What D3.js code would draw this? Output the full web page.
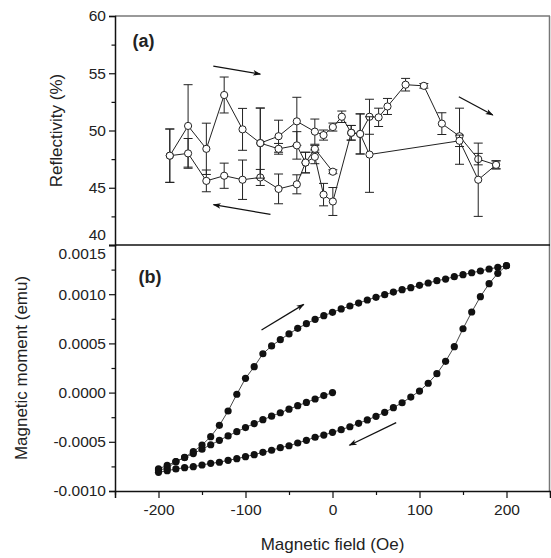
<!DOCTYPE html>
<html><head><meta charset="utf-8">
<script src="https://cdn.jsdelivr.net/npm/d3@7/dist/d3.min.js"></script>
<style>body{margin:0;background:#fff}svg{display:block}text{font-family:Arial,"Liberation Sans",sans-serif}</style>
</head><body>
<script>
// ---------- Panel (a): reflectivity ----------
// ascending field branch
const upH = [-187,-166,-145,-124.5,-103.4,-83,-62,-41,-20.3,-10.3,0.4,10.7,21.5,31.8,42.5,53,63.2,84,105,125.7,146,167.5,188];
const upR = [47.8,50.4,48.4,53.1,50.1,48.9,49.5,50.8,49.9,49.6,50.3,51.2,49.8,49.7,51.2,51.15,52.1,54.0,53.9,50.6,49.5,47.5,47.0];
const upE = [2.33,3.6,2.24,1.57,1.83,3.06,1.4,2.1,1.1,0.44,0.35,0.5,0.64,1.75,1.53,0.8,0.7,0.55,0.2,0.95,2.45,0.5,0.35];
// descending field branch
const downH = [188,167.5,146,42.5,31.8,21.5,0.4,-10.3,-20.3,-31,-41,-62,-83,-103.4,-124.5,-145,-166,-187];
const downR = [47.0,45.7,49.1,47.9,49.7,49.8,43.8,44.4,47.7,47.2,45.3,44.9,45.9,45.7,46.05,45.6,48.0,47.8];
const downE = [0.35,3.2,0.5,3.3,1.75,0.64,1.22,0.98,0.6,0.9,0.83,1.3,0.7,1.72,1.1,0.95,1.3,2.33];
// middle branch
const midH = [-83,-62,-41,-31,-20.3,0.4];
const midR = [48.9,48.4,48.7,47.2,48.4,46.4];
const midE = [3.06,0.47,1.2,0.9,0.3,0.17];

// ---------- Panel (b): magnetic moment ----------
const fieldAsc = d3.range(-200, 201, 10);
const momentAsc = [-0.000787,-0.000770,-0.000702,-0.000658,-0.000600,-0.000533,-0.000448,-0.000333,-0.000187,-0.000017,
  0.000145,0.000263,0.000395,0.000474,0.000538,0.000596,0.000653,0.000700,0.000745,0.000782,
  0.000816,0.000850,0.000880,0.000910,0.000941,0.000968,0.000995,0.001022,0.001046,0.001066,
  0.001090,0.001114,0.001137,0.001154,0.001178,0.001198,0.001218,0.001236,0.001256,0.001273,0.001290];
const fieldDesc = d3.range(200, -201, -10);
const momentDesc = [0.001290,0.001212,0.001107,0.000975,0.000819,0.000649,0.000467,0.000318,0.000192,0.000095,
  0.000016,-0.000045,-0.000103,-0.000153,-0.000200,-0.000241,-0.000278,-0.000312,-0.000347,-0.000377,
  -0.000404,-0.000432,-0.000454,-0.000485,-0.000512,-0.000540,-0.000560,-0.000586,-0.000607,-0.000631,
  -0.000651,-0.000672,-0.000688,-0.000708,-0.000719,-0.000736,-0.000753,-0.000763,-0.000776,-0.000794,-0.000810];
const fieldVirgin = d3.range(0, -201, -10);
const momentVirgin = [0,-0.000030,-0.000065,-0.000100,-0.000133,-0.000168,-0.000205,-0.000240,-0.000275,-0.000315,
  -0.000355,-0.000397,-0.000440,-0.000485,-0.000530,-0.000575,-0.000620,-0.000660,-0.000700,-0.000740,-0.000775];

// ticks
const xTicks = [-200,-100,0,100,200];
const xMinor = [-250,-150,-50,50,150,250];
const rTicks = [40,45,50,55,60];
const rMinor = [42.5,47.5,52.5,57.5];
const mTicks = [-0.001,-0.0005,0,0.0005,0.001,0.0015];
const mTickLabels = ["-0.0010","-0.0005","0.0000","0.0005","0.0010","0.0015"];
const mMinor = [-0.00075,-0.00025,0.00025,0.00075,0.00125];

// arrows [x1,y1,x2,y2] in data units
const arrowsA = [[-137,55.63,-83,54.93],[-71.3,42.68,-136.8,43.52],[145.2,52.95,184.3,51.35]];
const arrowsB = [[-81.6,0.000636,-33,0.000897],[73.2,-0.000306,19.5,-0.000535]];

const W = 551, H = 558;
const svg = d3.select("body").append("svg").attr("width", W).attr("height", H);
const defs = svg.append("defs");
defs.append("marker").attr("id","ah").attr("viewBox","0 0 10 10").attr("refX",9).attr("refY",5)
  .attr("markerWidth",11).attr("markerHeight",8).attr("markerUnits","userSpaceOnUse").attr("orient","auto")
  .append("path").attr("d","M0,1.5 L10,5 L0,8.5 L2.5,5 Z").attr("fill","#111");

const x = d3.scaleLinear().domain([-250,250]).range([115,550]);
const yA = d3.scaleLinear().domain([40,60]).range([245,16]);
const yB = d3.scaleLinear().domain([-0.001,0.0015]).range([491,245]);

// frames
svg.append("line").attr("x1",115).attr("x2",550).attr("y1",yA(60)).attr("y2",yA(60)).attr("stroke","#777").attr("stroke-width",1.5);
svg.append("line").attr("x1",549.5).attr("x2",549.5).attr("y1",yA(60)).attr("y2",yB(-0.001)).attr("stroke","#777").attr("stroke-width",1.5);
svg.append("line").attr("x1",115).attr("x2",550).attr("y1",245).attr("y2",245).attr("stroke","#111").attr("stroke-width",1.5);

function leftAxis(scale, ticks, minor, fmt){
  const g = svg.append("g").attr("transform","translate(115,0)");
  g.call(d3.axisLeft(scale).tickValues(ticks).tickSize(6).tickPadding(3).tickFormat(fmt));
  g.append("g").call(d3.axisLeft(scale).tickValues(minor).tickSize(3.5).tickFormat(""));
  g.selectAll("path.domain").attr("stroke","#111").attr("stroke-width",1.5);
  g.selectAll(".tick line").attr("stroke","#111").attr("stroke-width",1.2);
  g.selectAll("text").attr("font-size",15.5).attr("fill","#222").attr("font-family","Arial, 'Liberation Sans', sans-serif");
  g.selectAll("g g path.domain").remove();
  return g;
}
const axA = leftAxis(yA, rTicks, rMinor, d => String(d));
const axB = leftAxis(yB, mTicks, mMinor, (d,i) => mTickLabels[i]);
// the shared corner: "40" sits just above "0.0015"
axA.selectAll(".tick text").filter(d => d === 40).attr("dy","-0.35em");
axB.selectAll(".tick text").filter(d => d === 0.0015).attr("dy","0.85em");

const gx = svg.append("g").attr("transform",`translate(0,${yB(-0.001)})`);
gx.call(d3.axisBottom(x).tickValues(xTicks).tickSize(7).tickPadding(6).tickFormat(d => String(d)));
gx.append("g").call(d3.axisBottom(x).tickValues(xMinor).tickSize(4).tickFormat(""));
gx.selectAll("path.domain").attr("stroke","#111").attr("stroke-width",1.5);
gx.selectAll("g g path.domain").remove();
gx.selectAll(".tick line").attr("stroke","#111").attr("stroke-width",1.2);
gx.selectAll("text").attr("font-size",15.5).attr("fill","#222").attr("font-family","Arial, 'Liberation Sans', sans-serif");

// axis titles
svg.append("text").attr("transform",`translate(62,${(yA(60)+yA(40))/2}) rotate(-90)`).attr("text-anchor","middle")
  .attr("font-size",17).attr("fill","#222").text("Reflectivity (%)");
svg.append("text").attr("transform",`translate(27,${(yB(0.0015)+yB(-0.001))/2}) rotate(-90)`).attr("text-anchor","middle")
  .attr("font-size",17).attr("fill","#222").text("Magnetic moment (emu)");
svg.append("text").attr("x",x(0)).attr("y",550).attr("text-anchor","middle")
  .attr("font-size",17).attr("fill","#222").text("Magnetic field (Oe)");

// panel labels
svg.append("text").attr("x",x(-230)).attr("y",yA(57.3)).attr("font-size",18).attr("font-weight","bold").attr("fill","#222").text("(a)");
svg.append("text").attr("x",x(-223)).attr("y",yB(0.001114)).attr("font-size",18).attr("font-weight","bold").attr("fill","#222").text("(b)");

// panel (a) data
function drawSeries(Hs, Rs, Es){
  const pts = Hs.map((h,i)=>({h, r:Rs[i], e:Es[i]}));
  const g = svg.append("g");
  g.append("path").datum(pts).attr("fill","none").attr("stroke","#222").attr("stroke-width",1)
    .attr("d", d3.line().x(d=>x(d.h)).y(d=>yA(d.r)));
  const eb = g.selectAll("g.eb").data(pts).join("g").attr("stroke","#222").attr("stroke-width",1);
  eb.append("line").attr("x1",d=>x(d.h)).attr("x2",d=>x(d.h)).attr("y1",d=>yA(d.r-d.e)).attr("y2",d=>yA(d.r+d.e));
  eb.append("line").attr("x1",d=>x(d.h)-4.5).attr("x2",d=>x(d.h)+4.5).attr("y1",d=>yA(d.r-d.e)).attr("y2",d=>yA(d.r-d.e));
  eb.append("line").attr("x1",d=>x(d.h)-4.5).attr("x2",d=>x(d.h)+4.5).attr("y1",d=>yA(d.r+d.e)).attr("y2",d=>yA(d.r+d.e));
  return {g, pts};
}
const sUp = drawSeries(upH, upR, upE);
const sDown = drawSeries(downH, downR, downE);
const sMid = drawSeries(midH, midR, midE);
[sUp, sDown, sMid].forEach(s => {
  s.g.selectAll("circle").data(s.pts).join("circle").attr("cx",d=>x(d.h)).attr("cy",d=>yA(d.r)).attr("r",3.6)
    .attr("fill","#fff").attr("stroke","#222").attr("stroke-width",1);
});

// panel (b) data
function drawMoment(F, M){
  const pts = F.map((f,i)=>({f, m:M[i]}));
  const g = svg.append("g");
  g.append("path").datum(pts).attr("fill","none").attr("stroke","#333").attr("stroke-width",0.9)
    .attr("d", d3.line().x(d=>x(d.f)).y(d=>yB(d.m)));
  g.selectAll("circle").data(pts).join("circle").attr("cx",d=>x(d.f)).attr("cy",d=>yB(d.m)).attr("r",3.6).attr("fill","#111");
}
drawMoment(fieldVirgin, momentVirgin);
drawMoment(fieldAsc, momentAsc);
drawMoment(fieldDesc, momentDesc);

// arrows
arrowsA.forEach(a => svg.append("line").attr("x1",x(a[0])).attr("y1",yA(a[1])).attr("x2",x(a[2])).attr("y2",yA(a[3]))
  .attr("stroke","#111").attr("stroke-width",1.3).attr("marker-end","url(#ah)"));
arrowsB.forEach(a => svg.append("line").attr("x1",x(a[0])).attr("y1",yB(a[1])).attr("x2",x(a[2])).attr("y2",yB(a[3]))
  .attr("stroke","#111").attr("stroke-width",1.3).attr("marker-end","url(#ah)"));
</script>
</body></html>
